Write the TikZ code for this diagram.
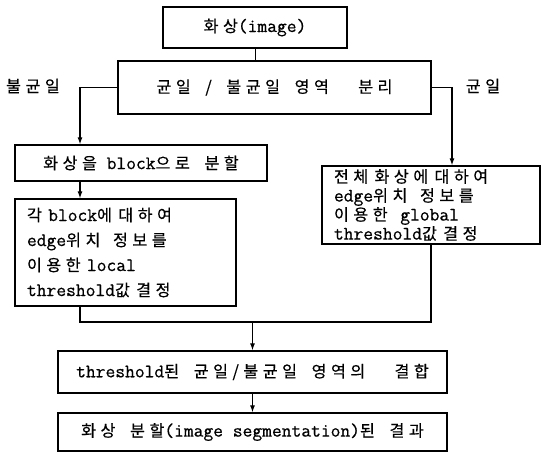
\documentclass[tikz,border=0pt]{standalone}
\usepackage{fontspec}
\usepackage{tikz}
\usetikzlibrary{arrows.meta}
\setmonofont[FakeBold=0.6]{Latin Modern Mono}
\newfontfamily\krfont[LetterSpace=28, WordSpace=1.8, FakeBold=0.5, Scale=0.85]{Noto Sans CJK KR}
\newcommand{\hg}[1]{{\krfont #1}}

\begin{document}
\begin{tikzpicture}[x=1pt, y=-1pt,
    box/.style={draw, line width=1.3pt, inner sep=0pt, font=\ttfamily\fontsize{19}{25}\selectfont},
    multibox/.style={box, align=left, inner xsep=12pt},
    lbl/.style={font=\fontsize{19}{20}\selectfont},
    arr/.style={-{Latex[length=7pt,width=5pt]}, line width=1.1pt},
    link/.style={line width=1.1pt}]
    \useasboundingbox (0,0) rectangle (543,458);
    \node[box, minimum width=184pt, minimum height=41pt] (img) at (255,27.5) {\hg{화상}(image)};
    \node[box, minimum width=313pt, minimum height=53pt] (sep) at (274.5,87.5) {\hg{균일 / 불균일 영역 \ 분리}};
    \node[lbl] (lnon) at (33,86) {\hg{불균일}};
    \node[lbl] (lun) at (483,86) {\hg{균일}};
    \node[box, minimum width=252pt, minimum height=36pt] (blk) at (141,163) {\hg{화상을} block\hg{으로 분할}};
    \node[multibox, text width=197pt, minimum height=107pt] (loc) at (125.5,252.5)
        {\hg{각} block\hg{에 대하여}\\edge\hg{위치 \ 정보를}\\\hg{이용한} local\\threshold\hg{값 결정}};
    \node[multibox, text width=194pt, minimum height=78pt, font=\ttfamily\fontsize{19}{19}\selectfont] (glob) at (431,205)
        {\hg{전체 화상에 대하여}\\edge\hg{위치 \ 정보를}\\\hg{이용한} \ global\\threshold\hg{값 결정}};
    \node[box, minimum width=389pt, minimum height=42pt] (comb) at (252.5,372) {threshold\hg{된 균일/불균일 영역의 \ 결합}};
    \node[box, minimum width=389pt, minimum height=38pt] (res) at (252.5,432) {\hg{화상 분할}(image segmentation)\hg{된 결과}};
    \coordinate (lcol) at (80,0);
    \coordinate (rcol) at (452,0);
    \coordinate (jn) at (252.5,322);
    \draw[line width=0.6pt] (img.south) -- (img.south |- sep.north);
    \draw[arr] (sep.west) -| (lcol |- blk.north);
    \draw[arr] (sep.east) -| (rcol |- glob.north);
    \draw[arr] (lcol |- blk.south) -- (lcol |- loc.north);
    \draw[link] (lcol |- loc.south) |- (jn) -| (glob.south);
    \draw[arr] (jn) -- (comb.north);
    \draw[arr] (comb.south) -- (res.north);
\end{tikzpicture}
\end{document}
